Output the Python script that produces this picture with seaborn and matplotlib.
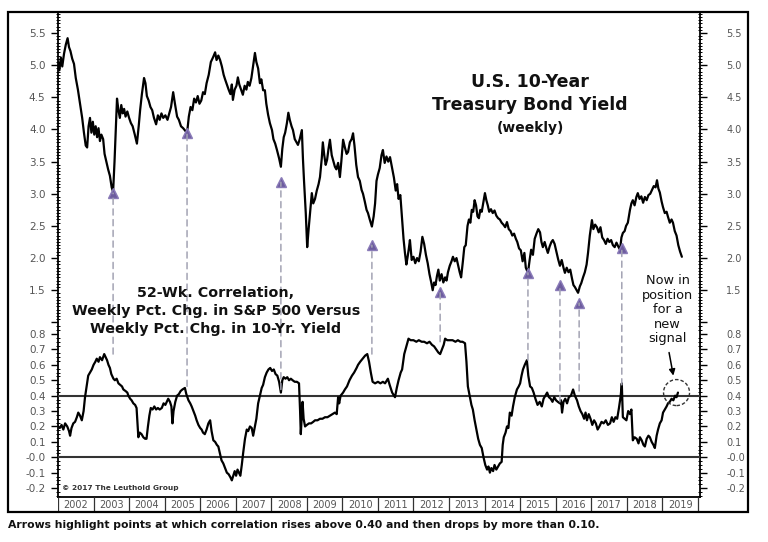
import matplotlib
matplotlib.use("Agg")
import matplotlib.pyplot as plt
import seaborn as sns
import numpy as np
from matplotlib.patches import Rectangle, Circle, ConnectionPatch
from matplotlib.transforms import ScaledTranslation
from matplotlib.ticker import FixedLocator, FixedFormatter

# ---------------- data ----------------
yield_years = [
    2002.00, 2002.04, 2002.08, 2002.12, 2002.17, 2002.22, 2002.27, 2002.31, 2002.35, 2002.40,
    2002.45, 2002.50, 2002.56, 2002.62, 2002.68, 2002.73, 2002.78, 2002.82, 2002.86, 2002.90,
    2002.94, 2002.98, 2003.02, 2003.06, 2003.10, 2003.14, 2003.18, 2003.22, 2003.27, 2003.31,
    2003.36, 2003.41, 2003.46, 2003.51, 2003.55, 2003.59, 2003.63, 2003.66, 2003.70, 2003.74,
    2003.78, 2003.82, 2003.86, 2003.90, 2003.95, 2004.00, 2004.05, 2004.10, 2004.16, 2004.22,
    2004.27, 2004.31, 2004.36, 2004.42, 2004.46, 2004.50, 2004.55, 2004.60, 2004.65, 2004.70,
    2004.76, 2004.81, 2004.86, 2004.91, 2004.96, 2005.02, 2005.08, 2005.13, 2005.18, 2005.24,
    2005.29, 2005.35, 2005.40, 2005.46, 2005.52, 2005.58, 2005.63, 2005.68, 2005.73, 2005.78,
    2005.83, 2005.88, 2005.93, 2005.98, 2006.03, 2006.08, 2006.13, 2006.18, 2006.24, 2006.30,
    2006.36, 2006.42, 2006.46, 2006.51, 2006.56, 2006.61, 2006.66, 2006.70, 2006.75, 2006.80,
    2006.85, 2006.89, 2006.92, 2006.97, 2007.02, 2007.06, 2007.10, 2007.15, 2007.20, 2007.25,
    2007.30, 2007.34, 2007.39, 2007.44, 2007.49, 2007.54, 2007.58, 2007.63, 2007.68, 2007.72,
    2007.77, 2007.82, 2007.86, 2007.91, 2007.96, 2008.02, 2008.06, 2008.11, 2008.16, 2008.22,
    2008.27, 2008.31, 2008.35, 2008.39, 2008.44, 2008.48, 2008.52, 2008.57, 2008.61, 2008.66,
    2008.71, 2008.75, 2008.80, 2008.86, 2008.89, 2008.92, 2008.97, 2009.01, 2009.05, 2009.09,
    2009.14, 2009.18, 2009.23, 2009.28, 2009.33, 2009.37, 2009.42, 2009.45, 2009.49, 2009.53,
    2009.57, 2009.61, 2009.65, 2009.70, 2009.75, 2009.79, 2009.83, 2009.88, 2009.93, 2009.97,
    2010.02, 2010.07, 2010.12, 2010.16, 2010.21, 2010.26, 2010.30, 2010.34, 2010.39, 2010.44,
    2010.49, 2010.54, 2010.58, 2010.63, 2010.68, 2010.72, 2010.77, 2010.83, 2010.88, 2010.92,
    2010.96, 2011.00, 2011.05, 2011.10, 2011.14, 2011.19, 2011.24, 2011.29, 2011.34, 2011.40,
    2011.45, 2011.50, 2011.54, 2011.58, 2011.63, 2011.68, 2011.72, 2011.76, 2011.80, 2011.83,
    2011.87, 2011.90, 2011.95, 2012.00, 2012.05, 2012.10, 2012.15, 2012.20, 2012.25, 2012.30,
    2012.35, 2012.40, 2012.45, 2012.50, 2012.54, 2012.58, 2012.62, 2012.66, 2012.70, 2012.74,
    2012.79, 2012.84, 2012.89, 2012.93, 2012.97, 2013.02, 2013.07, 2013.11, 2013.16, 2013.21,
    2013.26, 2013.30, 2013.34, 2013.39, 2013.43, 2013.47, 2013.52, 2013.56, 2013.60, 2013.64,
    2013.68, 2013.72, 2013.76, 2013.80, 2013.84, 2013.88, 2013.92, 2013.96, 2014.01, 2014.05,
    2014.09, 2014.13, 2014.18, 2014.23, 2014.28, 2014.33, 2014.38, 2014.43, 2014.48, 2014.53,
    2014.58, 2014.63, 2014.68, 2014.73, 2014.78, 2014.83, 2014.88, 2014.92, 2014.97, 2015.02,
    2015.07, 2015.12, 2015.16, 2015.22, 2015.27, 2015.31, 2015.36, 2015.41, 2015.46, 2015.51,
    2015.56, 2015.60, 2015.64, 2015.69, 2015.74, 2015.78, 2015.83, 2015.88, 2015.92, 2015.97,
    2016.02, 2016.07, 2016.12, 2016.17, 2016.22, 2016.26, 2016.31, 2016.36, 2016.41, 2016.46,
    2016.50, 2016.54, 2016.59, 2016.63, 2016.68, 2016.72, 2016.77, 2016.82, 2016.87, 2016.91,
    2016.96, 2017.02, 2017.06, 2017.11, 2017.16, 2017.21, 2017.26, 2017.31, 2017.36, 2017.41,
    2017.46, 2017.51, 2017.56, 2017.61, 2017.66, 2017.71, 2017.76, 2017.81, 2017.85, 2017.89,
    2017.94, 2017.98, 2018.03, 2018.09, 2018.13, 2018.17, 2018.22, 2018.27, 2018.31, 2018.36,
    2018.41, 2018.46, 2018.51, 2018.56, 2018.61, 2018.66, 2018.71, 2018.76, 2018.81, 2018.85,
    2018.89, 2018.93, 2018.98, 2019.02, 2019.07, 2019.12, 2019.16, 2019.21, 2019.26, 2019.30,
    2019.35, 2019.40, 2019.45, 2019.50, 2019.55,
]
yield_values = [
    5.05, 4.92, 5.12, 4.98, 5.18, 5.32, 5.42, 5.28, 5.22, 5.10,
    5.02, 4.80, 4.62, 4.40, 4.18, 3.95, 3.75, 3.72, 4.05, 4.18,
    3.95, 4.12, 3.92, 4.05, 3.88, 4.02, 3.82, 3.92, 3.85, 3.62,
    3.50, 3.38, 3.28, 3.10, 3.03, 3.50, 4.05, 4.48, 4.30, 4.18,
    4.38, 4.25, 4.32, 4.20, 4.28, 4.18, 4.10, 4.05, 3.92, 3.78,
    4.05, 4.30, 4.55, 4.80, 4.72, 4.52, 4.45, 4.35, 4.30, 4.18,
    4.08, 4.22, 4.15, 4.25, 4.18, 4.22, 4.15, 4.25, 4.35, 4.58,
    4.40, 4.20, 4.15, 4.05, 4.02, 3.98, 3.94, 4.20, 4.35, 4.30,
    4.48, 4.42, 4.52, 4.40, 4.45, 4.58, 4.55, 4.72, 4.85, 5.05,
    5.12, 5.20, 5.08, 5.15, 5.08, 4.98, 4.85, 4.78, 4.70, 4.62,
    4.55, 4.70, 4.46, 4.62, 4.68, 4.81, 4.70, 4.62, 4.54, 4.68,
    4.62, 4.74, 4.68, 4.80, 5.00, 5.19, 5.05, 4.95, 4.72, 4.78,
    4.61, 4.61, 4.40, 4.23, 4.10, 3.99, 3.85, 3.78, 3.68, 3.55,
    3.42, 3.70, 3.88, 3.95, 4.10, 4.26, 4.15, 4.05, 3.99, 3.85,
    3.80, 3.76, 3.85, 3.99, 3.55, 3.21, 2.70, 2.17, 2.45, 2.70,
    3.01, 2.85, 2.92, 3.05, 3.15, 3.26, 3.55, 3.80, 3.60, 3.45,
    3.53, 3.70, 3.84, 3.60, 3.50, 3.42, 3.38, 3.48, 3.26, 3.50,
    3.84, 3.72, 3.62, 3.65, 3.80, 3.85, 3.94, 3.75, 3.45, 3.26,
    3.20, 3.06, 3.00, 2.88, 2.75, 2.70, 2.60, 2.49, 2.65, 2.85,
    3.20, 3.30, 3.40, 3.60, 3.68, 3.48, 3.58, 3.50, 3.57, 3.40,
    3.25, 3.05, 3.15, 2.92, 2.98, 2.59, 2.30, 2.08, 1.90, 2.00,
    2.15, 2.28, 1.97, 2.02, 1.92, 2.00, 1.95, 2.10, 2.33, 2.22,
    2.05, 1.92, 1.75, 1.62, 1.50, 1.62, 1.58, 1.72, 1.82, 1.65,
    1.75, 1.62, 1.70, 1.65, 1.78, 1.88, 1.95, 2.02, 1.95, 2.00,
    1.88, 1.78, 1.70, 1.95, 2.17, 2.20, 2.50, 2.60, 2.55, 2.75,
    2.72, 2.90, 2.82, 2.65, 2.62, 2.75, 2.72, 2.85, 3.01, 2.90,
    2.82, 2.72, 2.76, 2.70, 2.74, 2.66, 2.62, 2.60, 2.55, 2.52,
    2.48, 2.56, 2.45, 2.42, 2.35, 2.38, 2.30, 2.25, 2.15, 2.12,
    1.95, 2.08, 1.85, 1.77, 1.98, 2.13, 2.05, 2.30, 2.38, 2.45,
    2.40, 2.25, 2.17, 2.25, 2.15, 2.08, 2.18, 2.25, 2.28, 2.22,
    2.10, 1.98, 1.88, 1.97, 1.85, 1.77, 1.85, 1.78, 1.82, 1.68,
    1.58, 1.55, 1.50, 1.46, 1.56, 1.61, 1.70, 1.78, 1.90, 2.08,
    2.35, 2.59, 2.45, 2.52, 2.48, 2.40, 2.48, 2.32, 2.28, 2.22,
    2.30, 2.25, 2.28, 2.20, 2.17, 2.24, 2.18, 2.13, 2.32, 2.39,
    2.42, 2.50, 2.55, 2.75, 2.85, 2.90, 2.82, 2.95, 3.01, 2.92,
    2.96, 2.86, 2.95, 2.90, 2.98, 3.00, 3.06, 3.12, 3.10, 3.21,
    3.08, 3.02, 2.88, 2.79, 2.70, 2.72, 2.64, 2.55, 2.60, 2.55,
    2.42, 2.35, 2.20, 2.10, 2.02,
]

corr_years = [
    2002.00, 2002.05, 2002.10, 2002.15, 2002.20, 2002.26, 2002.31, 2002.34, 2002.38, 2002.43,
    2002.48, 2002.53, 2002.57, 2002.62, 2002.67, 2002.72, 2002.76, 2002.81, 2002.85, 2002.90,
    2002.95, 2003.00, 2003.05, 2003.09, 2003.14, 2003.18, 2003.24, 2003.30, 2003.34, 2003.38,
    2003.42, 2003.46, 2003.50, 2003.56, 2003.60, 2003.65, 2003.70, 2003.75, 2003.80, 2003.84,
    2003.90, 2003.95, 2003.98, 2004.03, 2004.07, 2004.12, 2004.17, 2004.21, 2004.24, 2004.26,
    2004.30, 2004.35, 2004.40, 2004.45, 2004.49, 2004.53, 2004.57, 2004.61, 2004.66, 2004.71,
    2004.76, 2004.81, 2004.86, 2004.92, 2004.97, 2005.02, 2005.06, 2005.10, 2005.15, 2005.19,
    2005.22, 2005.25, 2005.30, 2005.35, 2005.40, 2005.45, 2005.50, 2005.57, 2005.61, 2005.67,
    2005.72, 2005.76, 2005.81, 2005.86, 2005.90, 2005.95, 2006.00, 2006.04, 2006.08, 2006.13,
    2006.18, 2006.23, 2006.28, 2006.32, 2006.37, 2006.42, 2006.47, 2006.51, 2006.56, 2006.60,
    2006.65, 2006.70, 2006.75, 2006.80, 2006.85, 2006.89, 2006.93, 2006.97, 2007.01, 2007.05,
    2007.09, 2007.13, 2007.17, 2007.21, 2007.26, 2007.31, 2007.35, 2007.40, 2007.45, 2007.49,
    2007.54, 2007.58, 2007.63, 2007.68, 2007.73, 2007.77, 2007.82, 2007.87, 2007.92, 2007.97,
    2008.02, 2008.07, 2008.12, 2008.17, 2008.22, 2008.27, 2008.31, 2008.35, 2008.40, 2008.45,
    2008.50, 2008.55, 2008.60, 2008.66, 2008.72, 2008.78, 2008.81, 2008.83, 2008.86, 2008.88,
    2008.91, 2008.95, 2009.00, 2009.06, 2009.12, 2009.18, 2009.23, 2009.30, 2009.37, 2009.44,
    2009.51, 2009.58, 2009.65, 2009.72, 2009.79, 2009.84, 2009.88, 2009.91, 2009.95, 2010.02,
    2010.07, 2010.13, 2010.20, 2010.27, 2010.33, 2010.40, 2010.44, 2010.50, 2010.57, 2010.64,
    2010.70, 2010.75, 2010.80, 2010.85, 2010.92, 2011.00, 2011.07, 2011.14, 2011.20, 2011.28,
    2011.33, 2011.40, 2011.48, 2011.53, 2011.58, 2011.64, 2011.68, 2011.74, 2011.80, 2011.86,
    2011.92, 2012.00, 2012.08, 2012.15, 2012.23, 2012.30, 2012.38, 2012.45, 2012.52, 2012.58,
    2012.64, 2012.70, 2012.75, 2012.80, 2012.85, 2012.89, 2012.95, 2013.02, 2013.10, 2013.18,
    2013.25, 2013.32, 2013.38, 2013.45, 2013.49, 2013.53, 2013.58, 2013.63, 2013.67, 2013.72,
    2013.77, 2013.82, 2013.87, 2013.92, 2013.97, 2014.02, 2014.07, 2014.11, 2014.15, 2014.19,
    2014.24, 2014.28, 2014.33, 2014.38, 2014.43, 2014.48, 2014.51, 2014.54, 2014.59, 2014.63,
    2014.67, 2014.71, 2014.76, 2014.80, 2014.85, 2014.91, 2014.96, 2015.00, 2015.04, 2015.08,
    2015.13, 2015.19, 2015.23, 2015.28, 2015.33, 2015.38, 2015.43, 2015.49, 2015.55, 2015.61,
    2015.66, 2015.71, 2015.76, 2015.81, 2015.86, 2015.91, 2015.96, 2016.01, 2016.06, 2016.12,
    2016.15, 2016.18, 2016.22, 2016.27, 2016.32, 2016.37, 2016.43, 2016.49, 2016.54, 2016.60,
    2016.65, 2016.70, 2016.75, 2016.80, 2016.84, 2016.88, 2016.93, 2016.98, 2017.03, 2017.08,
    2017.13, 2017.18, 2017.23, 2017.29, 2017.35, 2017.41, 2017.47, 2017.53, 2017.58, 2017.63,
    2017.68, 2017.73, 2017.78, 2017.83, 2017.86, 2017.89, 2017.94, 2017.99, 2018.04, 2018.09,
    2018.13, 2018.17, 2018.22, 2018.28, 2018.33, 2018.37, 2018.42, 2018.47, 2018.51, 2018.56,
    2018.61, 2018.65, 2018.70, 2018.75, 2018.79, 2018.84, 2018.88, 2018.93, 2018.98, 2019.02,
    2019.07, 2019.12, 2019.16, 2019.21, 2019.26, 2019.31, 2019.36, 2019.40, 2019.44,
]
corr_values = [
    0.20, 0.19, 0.21, 0.18, 0.22, 0.20, 0.17, 0.14, 0.19, 0.22,
    0.23, 0.26, 0.29, 0.27, 0.24, 0.30, 0.39, 0.47, 0.53, 0.55,
    0.57, 0.60, 0.62, 0.64, 0.62, 0.65, 0.63, 0.67, 0.65, 0.63,
    0.60, 0.58, 0.54, 0.51, 0.50, 0.51, 0.48, 0.47, 0.46, 0.44,
    0.43, 0.42, 0.40, 0.38, 0.37, 0.35, 0.34, 0.32, 0.20, 0.13,
    0.16, 0.15, 0.13, 0.12, 0.12, 0.20, 0.27, 0.32, 0.31, 0.33,
    0.31, 0.32, 0.31, 0.32, 0.35, 0.34, 0.36, 0.38, 0.36, 0.33,
    0.22, 0.30, 0.36, 0.40, 0.41, 0.43, 0.44, 0.45, 0.41, 0.37,
    0.35, 0.33, 0.30, 0.27, 0.24, 0.21, 0.19, 0.18, 0.16, 0.15,
    0.18, 0.22, 0.24, 0.17, 0.11, 0.10, 0.08, 0.07, 0.02, -0.02,
    -0.04, -0.07, -0.10, -0.11, -0.13, -0.15, -0.12, -0.09, -0.12, -0.08,
    -0.10, -0.12, -0.05, 0.03, 0.12, 0.18, 0.17, 0.20, 0.19, 0.14,
    0.20, 0.25, 0.35, 0.40, 0.45, 0.47, 0.52, 0.55, 0.57, 0.58,
    0.56, 0.57, 0.54, 0.53, 0.49, 0.42, 0.50, 0.52, 0.51, 0.52,
    0.50, 0.51, 0.50, 0.49, 0.49, 0.48, 0.30, 0.15, 0.28, 0.36,
    0.25, 0.20, 0.21, 0.22, 0.22, 0.23, 0.24, 0.24, 0.25, 0.25,
    0.26, 0.26, 0.27, 0.28, 0.29, 0.28, 0.39, 0.35, 0.40, 0.42,
    0.44, 0.46, 0.50, 0.53, 0.55, 0.58, 0.60, 0.62, 0.64, 0.66,
    0.67, 0.62, 0.55, 0.49, 0.48, 0.49, 0.48, 0.49, 0.48, 0.51,
    0.47, 0.42, 0.39, 0.45, 0.50, 0.55, 0.57, 0.67, 0.72, 0.77,
    0.76, 0.76, 0.75, 0.76, 0.75, 0.75, 0.74, 0.75, 0.73, 0.72,
    0.70, 0.68, 0.67, 0.70, 0.73, 0.77, 0.76, 0.76, 0.76, 0.75,
    0.76, 0.75, 0.75, 0.74, 0.62, 0.46, 0.40, 0.34, 0.31, 0.24,
    0.18, 0.12, 0.08, 0.06, 0.00, -0.05, -0.08, -0.06, -0.10, -0.07,
    -0.09, -0.05, -0.08, -0.06, -0.04, -0.03, 0.08, 0.13, 0.16, 0.20,
    0.19, 0.29, 0.27, 0.33, 0.39, 0.44, 0.46, 0.48, 0.53, 0.57,
    0.60, 0.63, 0.53, 0.46, 0.45, 0.42, 0.38, 0.34, 0.36, 0.33,
    0.38, 0.40, 0.42, 0.39, 0.38, 0.36, 0.39, 0.37, 0.36, 0.35,
    0.37, 0.29, 0.36, 0.38, 0.35, 0.39, 0.40, 0.44, 0.40, 0.37,
    0.33, 0.30, 0.28, 0.25, 0.29, 0.24, 0.28, 0.25, 0.21, 0.24,
    0.22, 0.18, 0.20, 0.23, 0.22, 0.24, 0.21, 0.22, 0.26, 0.23,
    0.26, 0.25, 0.32, 0.40, 0.48, 0.26, 0.25, 0.24, 0.30, 0.28,
    0.31, 0.11, 0.13, 0.12, 0.09, 0.13, 0.11, 0.08, 0.07, 0.12,
    0.14, 0.13, 0.10, 0.08, 0.06, 0.14, 0.18, 0.22, 0.24, 0.29,
    0.31, 0.33, 0.35, 0.36, 0.38, 0.37, 0.40, 0.39, 0.42,
]

# signal arrows: x position, yield level of the triangle, correlation level where the dashed line starts
arrow_years = [2003.55, 2005.63, 2008.27, 2010.83, 2012.75, 2015.22, 2016.12, 2016.66, 2017.86]
arrow_yield = [3.01, 3.94, 3.18, 2.20, 1.47, 1.77, 1.58, 1.30, 2.16]
arrow_corr = [0.67, 0.46, 0.44, 0.67, 0.75, 0.63, 0.36, 0.43, 0.47]

year_labels = [str(y) for y in range(2002, 2020)]
yield_major = [1.0, 1.5, 2.0, 2.5, 3.0, 3.5, 4.0, 4.5, 5.0, 5.5]
yield_major_labels = ["", "1.5", "2.0", "2.5", "3.0", "3.5", "4.0", "4.5", "5.0", "5.5"]
corr_major = [-0.2, -0.1, 0.0, 0.1, 0.2, 0.3, 0.4, 0.5, 0.6, 0.7, 0.8]
corr_major_labels = ["-0.2", "-0.1", "-0.0", "0.1", "0.2", "0.3", "0.4", "0.5", "0.6", "0.7", "0.8"]
threshold_levels = [0.4, 0.0]

# ---------------- figure ----------------
sns.set_theme(style="white")
plt.rcParams['font.family'] = ['DejaVu Sans']

W, H = 768, 542
fig = plt.figure(figsize=(W / 100, H / 100), dpi=100)
fig.patch.set_facecolor("white")


def fx(p):
    return p / W


def fy(p):
    return 1 - p / H


rect = [fx(58), fy(497), fx(700) - fx(58), fy(12) - fy(497)]
XLIM = (2002.0, 2020.06)
YLIM = (-1.716, 5.827)
CLIM = (-0.258, 2.891)

ax = fig.add_axes(rect)
axr = ax.twinx()
axc = fig.add_axes(rect, sharex=ax)
axc.patch.set_visible(False)
axcr = axc.twinx()

sns.lineplot(x=yield_years, y=yield_values, ax=ax, color="black", lw=1.6,
             estimator=None, sort=False, legend=False)
sns.lineplot(x=corr_years, y=corr_values, ax=axc, color="black", lw=1.6,
             estimator=None, sort=False, legend=False)

for lvl in threshold_levels:
    axc.axhline(lvl, color="#333333", lw=1.5, zorder=1)

ax.set_xlim(*XLIM)
for a in (ax, axr):
    a.set_ylim(*YLIM)
for a in (axc, axcr):
    a.set_ylim(*CLIM)

for a in (ax, axr, axc, axcr):
    a.set_xlabel("")
    a.set_ylabel("")
    a.tick_params(axis="x", which="both", bottom=False, top=False,
                  labelbottom=False, labeltop=False)
    for s in a.spines.values():
        s.set_visible(False)

ax.spines["left"].set_visible(True)
ax.spines["bottom"].set_visible(True)
axr.spines["right"].set_visible(True)
for s in ("left", "bottom"):
    ax.spines[s].set_color("black")
    ax.spines[s].set_linewidth(1.3)
axr.spines["right"].set_color("black")
axr.spines["right"].set_linewidth(1.3)

yield_minor = np.round(np.arange(1.0, 5.84, 0.05), 3)
corr_minor = np.round(np.arange(-0.25, 0.86, 0.025), 3)

for a, side, pad, fs in ((ax, "left", 4, 7.5), (axr, "right", 14, 7.0)):
    a.yaxis.set_major_locator(FixedLocator(yield_major))
    a.yaxis.set_major_formatter(FixedFormatter(yield_major_labels))
    a.yaxis.set_minor_locator(FixedLocator(yield_minor))
    a.yaxis.set_ticks_position(side)
    a.tick_params(axis="y", which="major", direction="out", length=5, width=1,
                  color="black", pad=pad, labelsize=fs, labelcolor="#555555")
    a.tick_params(axis="y", which="minor", direction="inout", length=3.5, width=0.7,
                  color="black")

for a, side, pad, fs in ((axc, "left", 4, 7.5), (axcr, "right", 14, 7.0)):
    a.yaxis.set_major_locator(FixedLocator(corr_major))
    a.yaxis.set_major_formatter(FixedFormatter(corr_major_labels))
    a.yaxis.set_minor_locator(FixedLocator(corr_minor))
    a.yaxis.set_ticks_position(side)
    a.tick_params(axis="y", which="major", direction="out", length=5, width=1,
                  color="black", pad=pad, labelsize=fs, labelcolor="#555555")
    a.tick_params(axis="y", which="minor", direction="inout", length=3.5, width=0.7,
                  color="black")

# signal arrows
for xa, ya, ca in zip(arrow_years, arrow_yield, arrow_corr):
    con = ConnectionPatch(xyA=(xa, ca), coordsA=axc.transData,
                          xyB=(xa, ya), coordsB=ax.transData,
                          linestyle=(0, (4, 3)), color="#a3a3b3", lw=1.1, zorder=2)
    fig.add_artist(con)
    ax.plot([xa], [ya], marker="^", ms=7, color="#6d5c9e", mec="#8a7bb8",
            ls="none", zorder=5)

# "now in position" annotation
axc.annotate("", xy=(2019.31, 0.53), xytext=(2019.19, 0.68),
             arrowprops=dict(arrowstyle="-|>", color="black", lw=1.1,
                             mutation_scale=9, shrinkA=0, shrinkB=0))
circ = Circle((0, 0), 0.13, fill=False, ec="#333333", lw=1.0, ls=(0, (2.5, 1.5)),
              transform=fig.dpi_scale_trans + ScaledTranslation(2019.40, 0.42, axc.transData))
fig.add_artist(circ)
axc.text(2019.15, 0.958, "Now in\nposition\nfor a\nnew\nsignal", ha="center", va="center",
         fontsize=9.3, linespacing=1.15, color="#111111")

# titles
fig.text(fx(530), fy(82), "U.S. 10-Year", ha="center", va="center",
         fontsize=12.5, fontweight="bold", color="#111111")
fig.text(fx(530), fy(105), "Treasury Bond Yield", ha="center", va="center",
         fontsize=12.5, fontweight="bold", color="#111111")
fig.text(fx(530), fy(128), "(weekly)", ha="center", va="center",
         fontsize=10, fontweight="bold", color="#111111")

fig.text(fx(216), fy(311),
         "52-Wk. Correlation,\nWeekly Pct. Chg. in S&P 500 Versus\nWeekly Pct. Chg. in 10-Yr. Yield",
         ha="center", va="center", fontsize=10.3, fontweight="bold",
         linespacing=1.38, color="#111111")

fig.text(fx(62), fy(488), "\u00a9 2017 The Leuthold Group", ha="left", va="center",
         fontsize=5.3, fontweight="bold", color="#333333")

# year strip
axy = fig.add_axes([fx(58), fy(512), fx(700) - fx(58), fy(497) - fy(512)])
axy.set_xlim(*XLIM)
axy.set_ylim(0, 1)
axy.axis("off")
year_edges = [int(y) for y in year_labels] + [int(year_labels[-1]) + 1]
axy.vlines(year_edges, 0, 1, color="#333333", lw=0.9)
for lab in year_labels:
    axy.text(int(lab) + 0.5, 0.5, lab, ha="center", va="center",
             fontsize=7, color="#555555")

# outer frame
fig.add_artist(Rectangle((fx(8), fy(512)), fx(748) - fx(8), fy(12) - fy(512),
                         transform=fig.transFigure, fill=False, ec="black", lw=1.6))

fig.text(fx(8), fy(525),
         "Arrows highlight points at which correlation rises above 0.40 and then drops by more than 0.10.",
         ha="left", va="center", fontsize=7.8, fontweight="bold", color="#111111")

fig.savefig("out.png", dpi=100)
